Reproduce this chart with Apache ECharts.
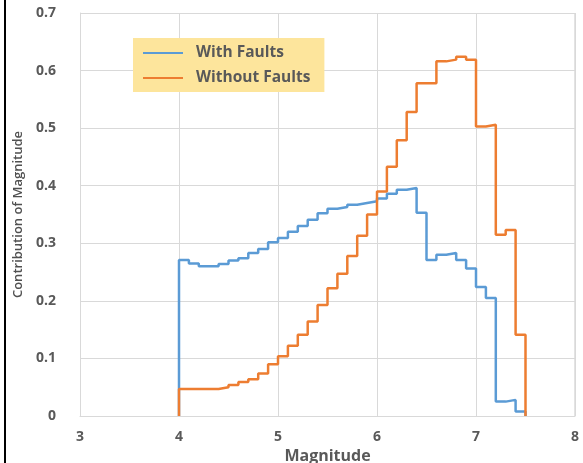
<!DOCTYPE html>
<html>
<head>
<meta charset="utf-8">
<script src="https://cdn.jsdelivr.net/npm/echarts@6/dist/echarts.min.js"></script>
<style>
  html, body { margin: 0; padding: 0; background: #fff; }
  #chart { width: 583px; height: 463px; }
</style>
</head>
<body>
<div id="chart"></div>
<script>
// left edge of each 0.1 magnitude bin
var magnitude = [4.0, 4.1, 4.2, 4.3, 4.4, 4.5, 4.6, 4.7, 4.8, 4.9,
  5.0, 5.1, 5.2, 5.3, 5.4, 5.5, 5.6, 5.7, 5.8, 5.9,
  6.0, 6.1, 6.2, 6.3, 6.4, 6.5, 6.6, 6.7, 6.8, 6.9,
  7.0, 7.1, 7.2, 7.3, 7.4];
var magEnd = 7.5;

var withFaults = [0.271, 0.265, 0.260, 0.260, 0.264, 0.270, 0.274, 0.283, 0.290, 0.302,
  0.309, 0.320, 0.330, 0.341, 0.352, 0.360, 0.363, 0.367, 0.370, 0.373,
  0.378, 0.386, 0.393, 0.396, 0.353, 0.271, 0.280, 0.283, 0.271, 0.256,
  0.224, 0.205, 0.025, 0.028, 0.008];

var withoutFaults = [0.047, 0.047, 0.047, 0.047, 0.050, 0.054, 0.059, 0.064, 0.074, 0.090,
  0.104, 0.122, 0.141, 0.164, 0.193, 0.222, 0.247, 0.278, 0.313, 0.350,
  0.390, 0.433, 0.479, 0.528, 0.578, 0.578, 0.616, 0.619, 0.624, 0.619,
  0.503, 0.506, 0.315, 0.323, 0.141];

var xTicks = [3, 4, 5, 6, 7, 8];
var yTicks = [0, 0.1, 0.2, 0.3, 0.4, 0.5, 0.6, 0.7];

// turn bin values into a closed step outline
function toSteps(vals) {
  var pts = [[magnitude[0], 0]];
  for (var i = 0; i < vals.length; i++) {
    pts.push([magnitude[i], vals[i]]);
  }
  pts.push([magEnd, vals[vals.length - 1]]);
  pts.push([magEnd, 0]);
  return pts;
}

var textGray = "#595959";
var gridGray = "#d9d9d9";

var chart = echarts.init(document.getElementById("chart"));
var option = {
  animation: false,
  grid: { left: 80, right: 8, top: 13, bottom: 47, outerBoundsMode: "none" },
  legend: {
    left: 133,
    top: 38,
    orient: "vertical",
    backgroundColor: "#fde59c",
    padding: [7, 14, 6, 10],
    itemGap: 9,
    itemWidth: 40,
    itemHeight: 2,
    textStyle: { color: textGray, fontSize: 15.5, fontWeight: "bold", fontFamily: "Open Sans", padding: [0, 0, 0, 8] },
    icon: "rect",
    data: ["With Faults", "Without Faults"]
  },
  xAxis: {
    type: "value",
    min: 3,
    max: 8,
    interval: 1,
    name: "Magnitude",
    nameLocation: "middle",
    nameGap: 32,
    nameTextStyle: { color: textGray, fontSize: 16, fontWeight: "bold", fontFamily: "Open Sans" },
    axisLine: { show: true, lineStyle: { color: gridGray, width: 1 } },
    axisTick: { show: false },
    axisLabel: {
      color: textGray, fontSize: 14, fontWeight: "bold", fontFamily: "Open Sans", margin: 14,
      formatter: function (v) { return xTicks.indexOf(v) >= 0 ? String(v) : ""; }
    },
    splitLine: { show: true, lineStyle: { color: gridGray, width: 1 } }
  },
  yAxis: {
    type: "value",
    min: 0,
    max: 0.7,
    interval: 0.1,
    name: "Contribution of Magnitude",
    nameLocation: "middle",
    nameGap: 50,
    nameTextStyle: { color: "#505050", fontSize: 13, fontWeight: 600, fontFamily: "Open Sans" },
    axisLine: { show: true, lineStyle: { color: gridGray, width: 1 } },
    axisTick: { show: false },
    axisLabel: {
      color: textGray, fontSize: 14, fontWeight: "bold", fontFamily: "Open Sans", margin: 24,
      formatter: function (v) {
        var r = Math.round(v * 10) / 10;
        return yTicks.indexOf(r) >= 0 ? String(r) : "";
      }
    },
    splitLine: { show: true, lineStyle: { color: gridGray, width: 1 } }
  },
  graphic: [
    { type: "rect", shape: { x: 575, y: 13, width: 0, height: 403 }, style: { stroke: gridGray, lineWidth: 1 }, silent: true },
    { type: "line", shape: { x1: 5, y1: 0, x2: 5, y2: 463 }, style: { stroke: "#000", lineWidth: 2 }, silent: true }
  ],
  series: [
    {
      name: "With Faults",
      type: "line",
      step: "end",
      symbol: "none",
      lineStyle: { color: "#5b9bd5", width: 2.5 },
      itemStyle: { color: "#5b9bd5" },
      data: toSteps(withFaults),
      z: 2
    },
    {
      name: "Without Faults",
      type: "line",
      step: "end",
      symbol: "none",
      lineStyle: { color: "#ed7d31", width: 2.5 },
      itemStyle: { color: "#ed7d31" },
      data: toSteps(withoutFaults),
      z: 3
    }
  ]
};
chart.setOption(option);
</script>
</body>
</html>
